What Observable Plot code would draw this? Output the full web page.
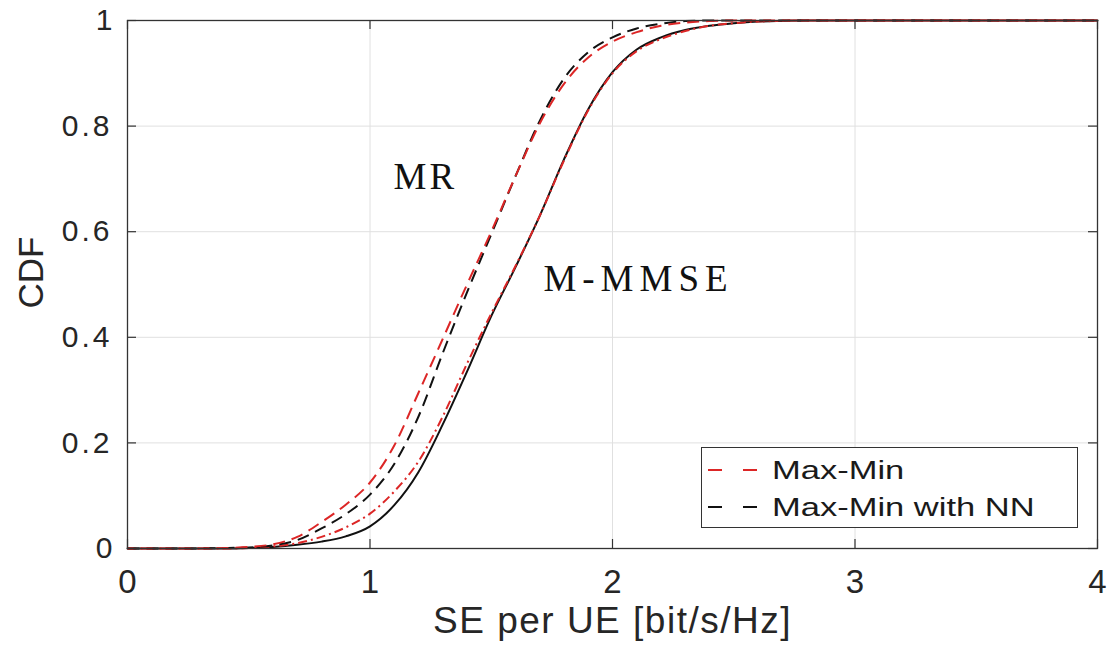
<!DOCTYPE html>
<html><head><meta charset="utf-8">
<script src="https://cdn.jsdelivr.net/npm/d3@7"></script>
<script src="https://cdn.jsdelivr.net/npm/@observablehq/plot@0.6"></script>
<style>
body{margin:0;background:#fff;}
#wrap{position:relative;width:1115px;height:651px;overflow:hidden;}
#legend{position:absolute;left:701px;top:447px;width:375px;height:79px;border:1.5px solid #333;background:#fff;font-family:Arial,"Liberation Sans",sans-serif;font-size:25px;color:#1a1a1a;}
.row{position:absolute;left:0;height:36px;display:flex;align-items:center;}
.row svg{display:block;}
.row span{display:inline-block;transform:scaleX(1.38);transform-origin:left center;white-space:nowrap;}
</style></head><body>
<div id="wrap"></div>
<script>
// SE per UE [bit/s/Hz] sample points
const se = [0,0.2,0.4,0.5,0.6,0.7,0.8,0.9,1.0,1.1,1.2,1.3,1.4,1.5,1.6,1.7,1.8,1.9,2.0,2.1,2.2,2.3,2.4,2.5,2.6,2.8,3,4];
// CDF values
const mrMaxMin     = [0,0,0.001,0.003,0.008,0.022,0.05,0.083,0.125,0.195,0.295,0.397,0.50,0.60,0.705,0.805,0.88,0.93,0.96,0.978,0.99,0.996,0.999,1,1,1,1,1];
const mrMaxMinNN   = [0,0,0.001,0.002,0.006,0.016,0.038,0.065,0.102,0.16,0.25,0.37,0.485,0.595,0.705,0.81,0.89,0.94,0.968,0.985,0.994,0.999,1,1,1,1,1,1];
const mmseMaxMin   = [0,0,0,0.001,0.004,0.01,0.022,0.04,0.066,0.108,0.165,0.25,0.35,0.445,0.535,0.63,0.735,0.83,0.9,0.942,0.965,0.98,0.99,0.995,0.998,1,1,1];
const mmseMaxMinNN = [0,0,0,0.001,0.003,0.007,0.013,0.023,0.042,0.082,0.145,0.235,0.335,0.44,0.533,0.63,0.737,0.832,0.902,0.945,0.968,0.982,0.99,0.995,0.998,1,1,1];

const xTicks = [0,1,2,3,4];
const yTicks = [0,0.2,0.4,0.6,0.8,1];
const legendLabels = ["Max-Min","Max-Min with NN"];
const annotations = [
  {label:"MR", x:1.097, y:0.703},
  {label:"M-MMSE", x:1.715, y:0.511}
];

const RED = "#dc2626", BLACK = "#111111";
const toRows = arr => se.map((x,i)=>({x, y:arr[i]}));

const plot = Plot.plot({
  width:1115, height:651,
  marginLeft:127, marginRight:18, marginTop:20, marginBottom:103,
  x:{domain:[0,4]}, y:{domain:[0,1]},
  style:{fontFamily:"Arial, 'Liberation Sans', sans-serif", background:"#fff", color:"#262626", overflow:"visible"},
  marks:[
    Plot.gridX(xTicks,{stroke:"#e0e0e0", strokeOpacity:1, strokeWidth:1}),
    Plot.gridY(yTicks,{stroke:"#e0e0e0", strokeOpacity:1, strokeWidth:1}),
    Plot.line(toRows(mmseMaxMinNN),{x:"x", y:"y", stroke:BLACK, strokeWidth:2, curve:"monotone-x"}),
    Plot.line(toRows(mmseMaxMin),{x:"x", y:"y", stroke:RED, strokeWidth:2, strokeDasharray:"9,4,2,4", strokeLinecap:"butt", curve:"monotone-x"}),
    Plot.line(toRows(mrMaxMinNN),{x:"x", y:"y", stroke:BLACK, strokeWidth:2, strokeDasharray:"12,7", strokeLinecap:"butt", curve:"monotone-x"}),
    Plot.line(toRows(mrMaxMin),{x:"x", y:"y", stroke:RED, strokeWidth:2, strokeDasharray:"12,7", strokeDashoffset:6, strokeLinecap:"butt", curve:"monotone-x"}),
    Plot.frame({stroke:"#333", strokeWidth:1.3}),
    Plot.ruleX(xTicks,{stroke:"#333", strokeWidth:1.2, insetTop:519}),
    Plot.ruleX(xTicks,{stroke:"#333", strokeWidth:1.2, insetBottom:519}),
    Plot.ruleY(yTicks,{stroke:"#333", strokeWidth:1.2, insetRight:961}),
    Plot.ruleY(yTicks,{stroke:"#333", strokeWidth:1.2, insetLeft:961}),
    Plot.axisX(xTicks,{tickSize:0, tickPadding:21, fontSize:33, label:null, tickFormat:d=>String(d), fill:"#262626"}),
    Plot.axisY(yTicks,{tickSize:0, tickPadding:15, fontSize:30, label:null, tickFormat:d=>String(d), fill:"#262626"}),
    Plot.text(["SE per UE [bit/s/Hz]"],{frameAnchor:"bottom", dy:73, fontSize:37, fill:"#262626", lineAnchor:"middle"}),
    Plot.text(["CDF"],{frameAnchor:"left", dx:-96, dy:24, rotate:-90, fontSize:35, fill:"#262626"}),
    Plot.text(annotations,{x:"x", y:"y", text:"label", textAnchor:"start", lineAnchor:"middle", fontFamily:"'Liberation Serif','Times New Roman',serif", fontSize:37, fill:"#111"})
  ]
});

plot.querySelectorAll("text").forEach(t=>{
  const s = t.textContent;
  if (s==="MR") t.style.letterSpacing="3px";
  if (s==="M-MMSE") t.style.letterSpacing="6px";
  if (s==="SE per UE [bit/s/Hz]") t.style.letterSpacing="1.5px";
  if (/^0\.\d$/.test(s)) t.style.letterSpacing="3px";
});

const wrap = document.getElementById("wrap");
wrap.appendChild(plot);

// legend
const legend = document.createElement("div");
legend.id = "legend";
const legendStyles = [{stroke:RED, dash:"14,21"},{stroke:BLACK, dash:"14,21"}];
legendLabels.forEach((lab,i)=>{
  const row = document.createElement("div");
  row.className = "row";
  row.style.top = (i===0 ? 4 : 41) + "px";
  row.innerHTML = `<svg width="70" height="36"><line x1="6" x2="64" y1="18" y2="18" stroke="${legendStyles[i].stroke}" stroke-width="2" stroke-dasharray="${legendStyles[i].dash}"/></svg><span>${lab}</span>`;
  legend.appendChild(row);
});
wrap.appendChild(legend);
</script>
</body></html>
